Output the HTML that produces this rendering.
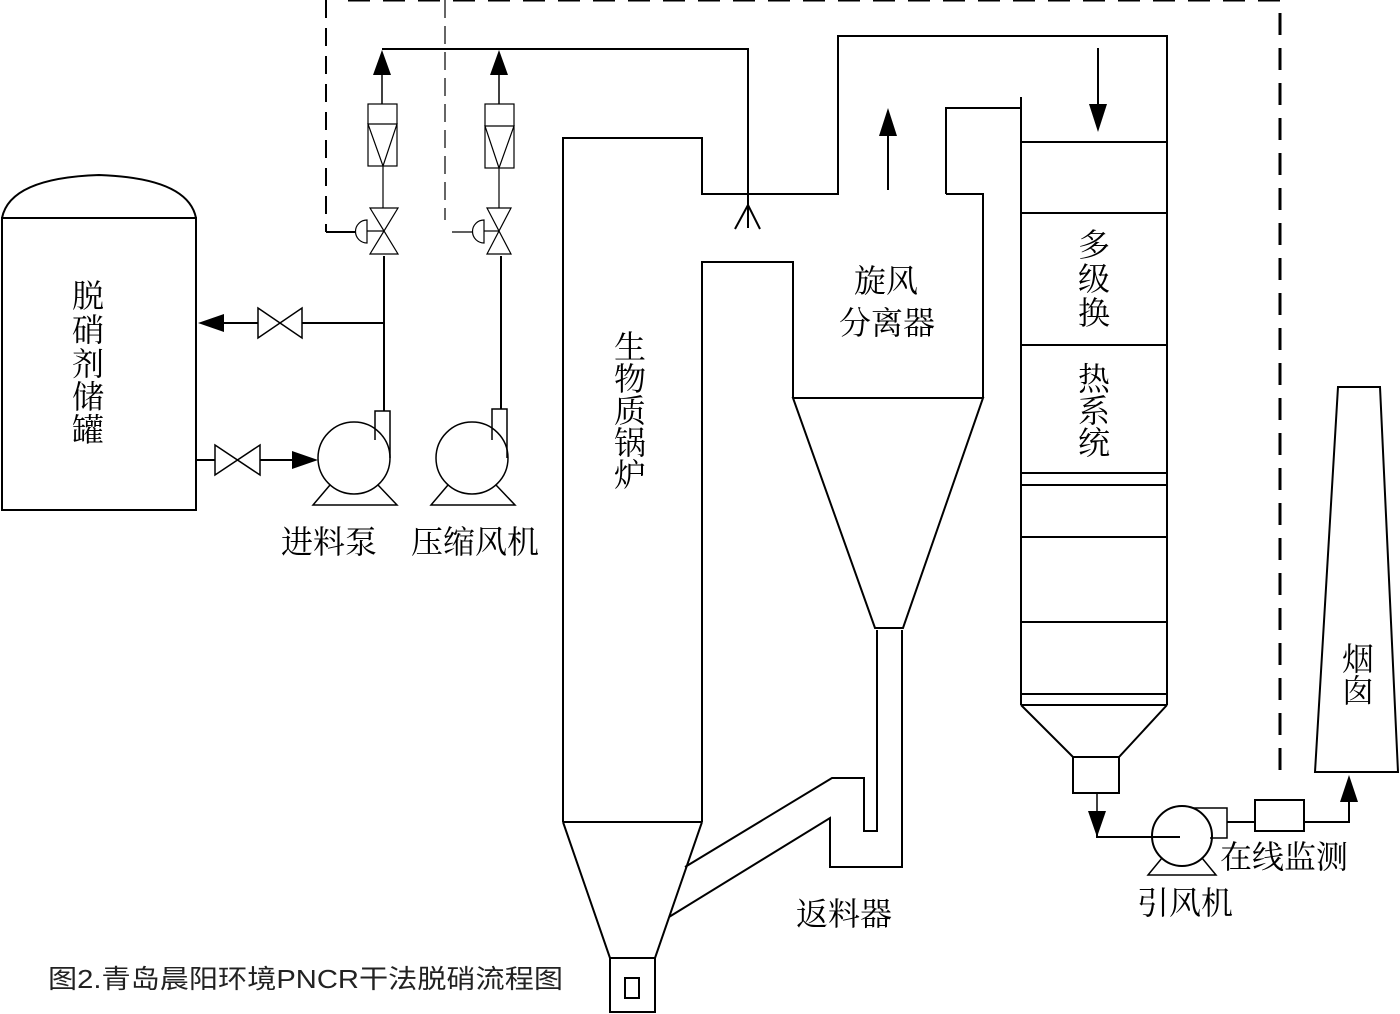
<!DOCTYPE html>
<html><head><meta charset="utf-8"><style>
html,body{margin:0;padding:0;background:#fff;}
svg{display:block;}
text{font-family:"Liberation Serif","Noto Serif CJK SC","Noto Sans CJK SC",serif;fill:#000;}
</style></head><body>
<svg width="1400" height="1014" viewBox="0 0 1400 1014" xmlns="http://www.w3.org/2000/svg">
<g fill="none" stroke="#000" stroke-width="2">
<path d="M2,218 L2,510 L196,510 L196,218 Z"/>
<path d="M2,218 Q10,178 99,175 Q188,178 196,218"/>
<line x1="384" y1="323" x2="302" y2="323"/>
<line x1="258" y1="323" x2="222" y2="323"/>
<path d="M258,308 L302,338 L302,308 L258,338 Z" stroke-width="1.5"/>
<line x1="196" y1="460" x2="215" y2="460"/>
<line x1="260" y1="460" x2="295" y2="460"/>
<path d="M215,445 L260,475 L260,445 L215,475 Z" stroke-width="1.5"/>
<circle cx="354" cy="458" r="36" stroke-width="1.5"/>
<path d="M375,440 L375,411 L390,411 L390,458" stroke-width="1.5"/>
<path d="M330,485 L313,505 L397,505 L378,485" stroke-width="1.5"/>
<circle cx="472" cy="458" r="36" stroke-width="1.5"/>
<path d="M492,440 L492,409 L507,409 L507,458" stroke-width="1.5"/>
<path d="M448,485 L431,505 L515,505 L496,485" stroke-width="1.5"/>
<line x1="384" y1="256" x2="384" y2="411"/>
<line x1="501" y1="256" x2="501" y2="409"/>
<path d="M370,208 L398,254 L370,254 L398,208 Z" stroke-width="1.2"/>
<path d="M487,208 L511,254 L487,254 L511,208 Z" stroke-width="1.2"/>
<line x1="367" y1="231" x2="384" y2="231" stroke-width="1.2"/>
<line x1="484" y1="231" x2="499" y2="231" stroke-width="1.2"/>
<path d="M367,220 A11,11 0 0 0 367,243 Z" stroke-width="1.2"/>
<path d="M484,220 A11,11 0 0 0 484,243 Z" stroke-width="1.2"/>
<line x1="326" y1="232" x2="356" y2="232"/>
<line x1="452" y1="232" x2="473" y2="232" stroke-width="1.2"/>
<rect x="368" y="104" width="29" height="62" stroke-width="1.2"/>
<path d="M368,124 L397,124 L383,166 Z" stroke-width="1.2"/>
<rect x="485" y="104" width="29" height="64" stroke-width="1.2"/>
<path d="M485,126 L514,126 L499,168 Z" stroke-width="1.2"/>
<line x1="383" y1="208" x2="383" y2="166" stroke-width="1.2"/>
<line x1="499" y1="208" x2="499" y2="168" stroke-width="1.2"/>
<line x1="382" y1="104" x2="382" y2="70" stroke-width="1.5"/>
<line x1="499" y1="104" x2="499" y2="70" stroke-width="1.5"/>
<path d="M382,49 L748,49 L748,228"/>
<path d="M735,229 L748,205 L760,229"/>
<path d="M326,0 L326,232" stroke-dasharray="18,10"/>
<line x1="445" y1="0" x2="445" y2="220" stroke-width="1.2" stroke-dasharray="18,8"/>
<path d="M348,0 L1280,0 L1280,780" stroke-width="3" stroke-dasharray="22,13"/>
<path d="M563,822 L563,138 L702,138 L702,194 L838,194 L838,36 L1167,36 L1167,705"/>
<path d="M702,822 L702,262 L793,262 L793,398"/>
<line x1="563" y1="822" x2="702" y2="822"/>
<path d="M563,822 L610,958 M702,822 L655,958"/>
<rect x="610" y="958" width="45" height="54"/>
<rect x="625" y="978" width="14" height="20"/>
<path d="M946,194 L946,108 L1021,108"/>
<path d="M946,194 L983,194 L983,398"/>
<path d="M793,398 L983,398 L903,628 L875,628 Z"/>
<path d="M877,630 L877,831 L864,831 L864,778 L832,778 L685,867"/>
<path d="M902,630 L902,867 L830,867 L830,818 L669,917"/>
<line x1="1021" y1="97" x2="1021" y2="705"/>
<g>
<line x1="1021" y1="142" x2="1167" y2="142"/>
<line x1="1021" y1="213" x2="1167" y2="213"/>
<line x1="1021" y1="345" x2="1167" y2="345"/>
<line x1="1021" y1="473" x2="1167" y2="473"/>
<line x1="1021" y1="485" x2="1167" y2="485"/>
<line x1="1021" y1="537" x2="1167" y2="537"/>
<line x1="1021" y1="622" x2="1167" y2="622"/>
<line x1="1021" y1="694" x2="1167" y2="694"/>
<line x1="1021" y1="705" x2="1167" y2="705"/>
</g>
<path d="M1021,705 L1073,757 L1119,757 L1167,705"/>
<rect x="1073" y="757" width="46" height="36"/>
<line x1="1097" y1="793" x2="1097" y2="815" stroke-width="1.5"/>
<path d="M1097,815 L1097,837 L1180,837" stroke-width="2"/>
<ellipse cx="1182" cy="836" rx="30" ry="30"/>
<path d="M1193,808 L1227,808 L1227,838 L1210,838" stroke-width="1.5"/>
<path d="M1162,858 L1148,875 L1216,875 L1202,858" stroke-width="1.5"/>
<line x1="1227" y1="822" x2="1255" y2="822"/>
<rect x="1255" y="800" width="49" height="31"/>
<path d="M1304,822 L1349,822 L1349,800"/>
<path d="M1315,772 L1398,772 L1380,387 L1338,387 Z"/>
<line x1="1098" y1="48" x2="1098" y2="105"/>
<line x1="888" y1="190" x2="888" y2="135"/>
</g>
<g fill="#000">
<polygon points="198,323 224,314 224,332"/>
<polygon points="318,460 292,451 292,469"/>
<polygon points="382,50 373,75 391,75"/>
<polygon points="499,50 490,75 508,75"/>
<polygon points="1098,132 1089,104 1107,104"/>
<polygon points="888,108 879,136 897,136"/>
<polygon points="1097,837 1088,811 1106,811"/>
<polygon points="1349,775 1340,802 1358,802"/>
</g>
<g font-size="32" text-anchor="middle">
<text x="88" y="307">脱</text>
<text x="88" y="341">硝</text>
<text x="88" y="375">剂</text>
<text x="88" y="408">储</text>
<text x="88" y="441">罐</text>
<text x="630" y="358">生</text>
<text x="630" y="390">物</text>
<text x="630" y="422">质</text>
<text x="630" y="454">锅</text>
<text x="630" y="486">炉</text>
<text x="886" y="292">旋风</text>
<text x="887" y="334">分离器</text>
<text x="1094" y="256">多</text>
<text x="1094" y="290">级</text>
<text x="1094" y="324">换</text>
<text x="1094" y="390">热</text>
<text x="1094" y="422">系</text>
<text x="1094" y="454">统</text>
<text x="1358" y="670">烟</text>
<text x="1358" y="702">囱</text>
<text x="329" y="553">进料泵</text>
<text x="475" y="553">压缩风机</text>
<text x="844" y="925">返料器</text>
<text x="1185" y="914">引风机</text>
<text x="1284" y="868">在线监测</text>
</g>
<text x="48" y="988" font-size="26" textLength="515" lengthAdjust="spacingAndGlyphs" style="font-family:'Liberation Sans','Noto Sans CJK SC',sans-serif;fill:#222;">图2.青岛晨阳环境PNCR干法脱硝流程图</text>
</svg>
</body></html>
